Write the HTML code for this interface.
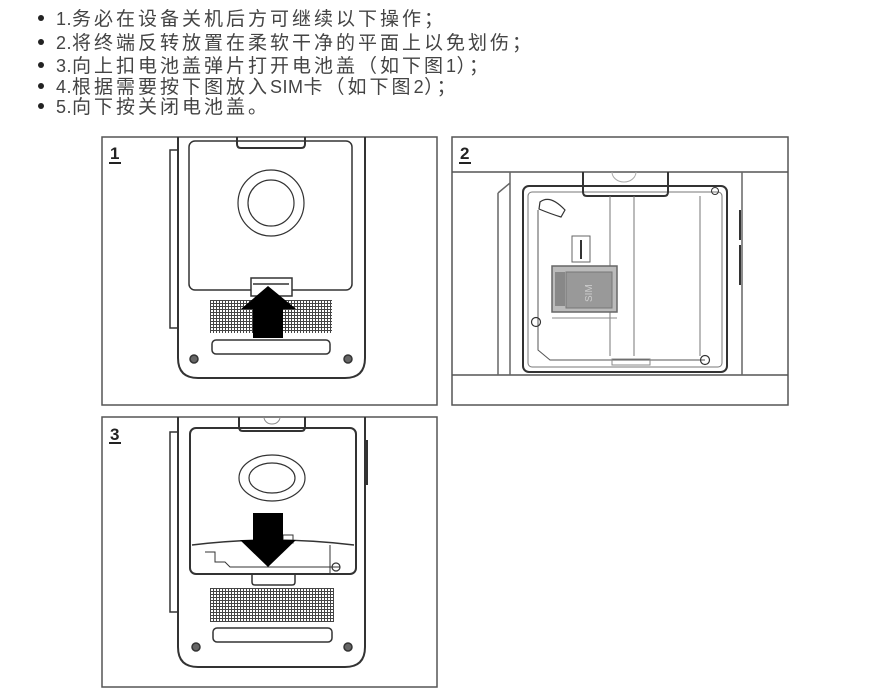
<!DOCTYPE html>
<html><head><meta charset="utf-8">
<style>
html,body{margin:0;padding:0;background:#fff;}
body{width:873px;height:700px;position:relative;overflow:hidden;}
.t{position:absolute;left:38px;font-family:"Liberation Sans","Noto Sans CJK SC",sans-serif;font-size:19px;letter-spacing:3px;color:#444;white-space:nowrap;line-height:22px;}
.t i{font-style:normal;letter-spacing:0.5px;font-size:18px;}
.t b{display:inline-block;width:6px;height:6px;border-radius:50%;background:#222;margin-right:12px;vertical-align:middle;position:relative;top:-2px;}
svg{position:absolute;left:0;top:0;}
</style></head><body>
<div class="t" style="top:8px"><b></b><i>1.</i>务必在设备关机后方可继续以下操作；</div>
<div class="t" style="top:32px"><b></b><i>2.</i>将终端反转放置在柔软干净的平面上以免划伤；</div>
<div class="t" style="top:55px"><b></b><i>3.</i>向上扣电池盖弹片打开电池盖（如下图<i>1</i>）；</div>
<div class="t" style="top:76px"><b></b><i>4.</i>根据需要按下图放入<i>SIM</i>卡（如下图<i>2</i>）；</div>
<div class="t" style="top:96px"><b></b><i>5.</i>向下按关闭电池盖。</div>
<svg width="873" height="700" viewBox="0 0 873 700" fill="none" stroke="#333" stroke-width="1.5">
<defs>
<pattern id="g" width="3" height="3" patternUnits="userSpaceOnUse">
<rect width="3" height="3" fill="#fff" stroke="none"/>
<path d="M0 0.5H3M0.5 0V3" stroke="#444" stroke-width="1"/>
</pattern>
</defs>
<rect x="102" y="137" width="335" height="268" stroke="#555" stroke-width="1.5"/>
<rect x="452" y="137" width="336" height="268" stroke="#555" stroke-width="1.5"/>
<rect x="102" y="417" width="335" height="270" stroke="#555" stroke-width="1.5"/>
<g font-family="Liberation Sans,sans-serif" font-weight="bold" font-size="17" fill="#222" stroke="none">
<text x="110" y="159">1</text><text x="460" y="159">2</text><text x="110" y="440">3</text>
</g>
<path d="M109 163h12M459 163h12M109 443h12" stroke="#222" stroke-width="2"/>

<path d="M178 137V358q0 20 20 20H345q20 0 20-20V137" stroke-width="2"/>
<path d="M178 150h-8v178h8" />
<path d="M365 160v50" stroke-width="2"/>
<rect x="189" y="141" width="163" height="149" rx="6"/>
<path d="M237 137v7q0 4 4 4h60q4 0 4-4v-7" stroke-width="2"/>
<circle cx="271" cy="203" r="33" stroke-width="1.2"/>
<circle cx="271" cy="203" r="23" stroke-width="1.2"/>
<rect x="210" y="300" width="122" height="33" fill="url(#g)" stroke="none"/>
<rect x="251" y="278" width="41" height="18" fill="#fff"/>
<path d="M253 284h36"/>
<path d="M253 338V309h-12l27-23 28 23h-13v29z" fill="#000" stroke="none"/>
<rect x="212" y="340" width="118" height="14" rx="4"/>
<circle cx="194" cy="359" r="4" fill="#666"/><circle cx="348" cy="359" r="4" fill="#666"/>

<path d="M452 172H788M452 375H788" stroke="#555"/>
<path d="M510 172v203M498 193v182M742 172v203M498 193l12-10" stroke="#666"/>
<path d="M740 210v30M740 245v40" stroke-width="2"/>
<rect x="523" y="186" width="204" height="186" rx="6" stroke-width="2"/>
<rect x="528" y="192" width="194" height="175" rx="4" stroke="#777" stroke-width="1"/>
<path d="M583 172v20q0 4 4 4h77q4 0 4-4v-20" stroke-width="2"/>
<path d="M612 172a12 10 0 0 0 24 0" stroke="#aaa" stroke-width="1"/>
<path d="M610 196v160M634 196v160M700 196v160" stroke="#777" stroke-width="1"/>
<path d="M540 202q10-8 25 8l-4 7q-10-3-22-8z" stroke-width="1.2"/>
<path d="M538 210v140l12 10h155" stroke="#555" stroke-width="1"/>
<rect x="572" y="236" width="18" height="26" stroke="#666" stroke-width="1"/>
<path d="M581 240v19" stroke="#333" stroke-width="2"/>
<rect x="552" y="266" width="65" height="46" fill="#bbb" stroke="#666"/>
<rect x="566" y="272" width="46" height="36" fill="#999" stroke="#777" stroke-width="1"/>
<rect x="555" y="272" width="10" height="34" fill="#888" stroke="none"/>
<text x="0" y="0" transform="translate(592,302) rotate(-90)" font-family="Liberation Sans,sans-serif" font-size="10" fill="#ccc" stroke="none">SIM</text>
<path d="M552 318h65" stroke="#888" stroke-width="1"/>
<circle cx="536" cy="322" r="4.5" stroke-width="1.2"/>
<circle cx="705" cy="360" r="4.5" stroke-width="1.2"/>
<circle cx="715" cy="191" r="3.5" stroke-width="1"/>
<rect x="612" y="359" width="38" height="6" stroke="#888" stroke-width="1"/>

<path d="M178 417V647q0 20 20 20H345q20 0 20-20V417" stroke-width="2"/>
<path d="M178 432h-8v180h8"/>
<path d="M367 440v45" stroke-width="2"/>
<rect x="190" y="428" width="166" height="146" rx="6" stroke-width="2"/>
<path d="M239 417v10q0 4 4 4h58q4 0 4-4v-10" stroke-width="2"/>
<path d="M264 417a8 7 0 0 0 16 0" stroke="#888" stroke-width="1"/>
<ellipse cx="272" cy="478" rx="33" ry="23" stroke-width="1.2"/>
<ellipse cx="272" cy="478" rx="23" ry="15" stroke-width="1.2"/>
<path d="M192 545q80-10 162 0" />
<path d="M205 552h10v10h10l5 5h110" stroke-width="1"/>
<path d="M330 545v28" stroke-width="1"/>
<rect x="283" y="535" width="10" height="8" stroke-width="1"/>
<circle cx="336" cy="567" r="4" stroke-width="1.2"/>
<path d="M252 574v8q0 3 3 3h37q3 0 3-3v-8" stroke-width="1.5"/>
<path d="M253 513h30v27h13l-28 27-28-27h13z" fill="#000" stroke="none"/>
<rect x="210" y="588" width="124" height="34" fill="url(#g)" stroke="none"/>
<rect x="213" y="628" width="119" height="14" rx="4"/>
<circle cx="196" cy="647" r="4" fill="#666"/><circle cx="348" cy="647" r="4" fill="#666"/>
</svg>
</body></html>
